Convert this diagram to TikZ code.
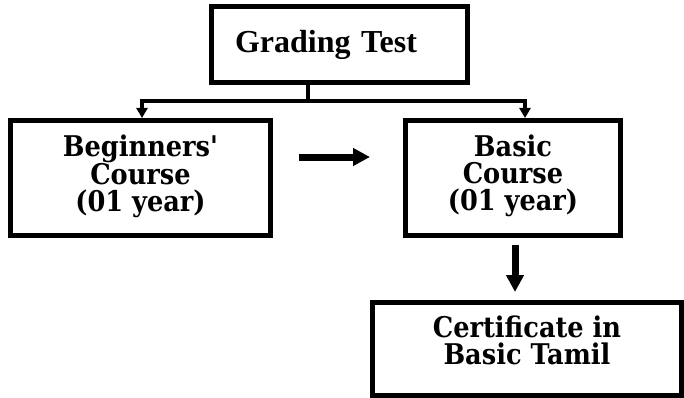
\documentclass[tikz,border=0pt]{standalone}
\usepackage{fontspec}
\newfontfamily\dvserif[FakeStretch=0.9]{DejaVu Serif}
\newfontfamily\tnrserif{Liberation Serif}
\usetikzlibrary{arrows.meta}
\begin{document}
\begin{tikzpicture}[x=1pt,y=-1pt,
  boxnode/.style={draw=black,line width=5pt,rectangle,inner sep=0pt,align=center,fill=white},
  bodytext/.style={font=\dvserif\bfseries\fontsize{28.5}{27}\selectfont},
  conn/.style={line width=4.5pt,line join=miter,-{Triangle[length=10pt,width=11pt]}},
  bigarrow/.style={line width=7pt,-{Triangle[length=17pt,width=17pt]}}]
\useasboundingbox (0,0) rectangle (684,398);
\fill[white] (0,0) rectangle (684,398);
\node[boxnode,minimum width=256pt,minimum height=76pt,text width=209pt,inner xsep=23.5pt,align=left,
  font=\tnrserif\bfseries\fontsize{32}{34}\selectfont] (grad) at (339.5,44.5) {Grading Test};
\node[boxnode,bodytext,minimum width=260pt,minimum height=115pt,text depth=10pt] (beg) at (140.5,178) {Beginners'\\Course\\(01 year)};
\node[boxnode,bodytext,minimum width=215pt,minimum height=115pt,text depth=10pt] (basic) at (513,178) {Basic\\Course\\(01 year)};
\node[boxnode,bodytext,minimum width=309pt,minimum height=93pt,text depth=16.7pt] (cert) at (527,349) {Certificate in\\Basic Tamil};
\coordinate (j) at (308,101);
\draw[line width=4.5pt] (grad.south -| j) -- (j);
\draw[conn] (j) -| ([xshift=1.5pt]beg.north);
\draw[conn] (j) -| ([xshift=12pt]basic.north);
\draw[bigarrow,shorten <=26pt,shorten >=33pt] ([yshift=21pt]beg.east) -- ([yshift=21pt]basic.west);
\draw[bigarrow,shorten <=7pt,shorten >=8pt] ([xshift=2pt]basic.south) -- ([xshift=2pt]basic.south |- cert.north);
\end{tikzpicture}
\end{document}
